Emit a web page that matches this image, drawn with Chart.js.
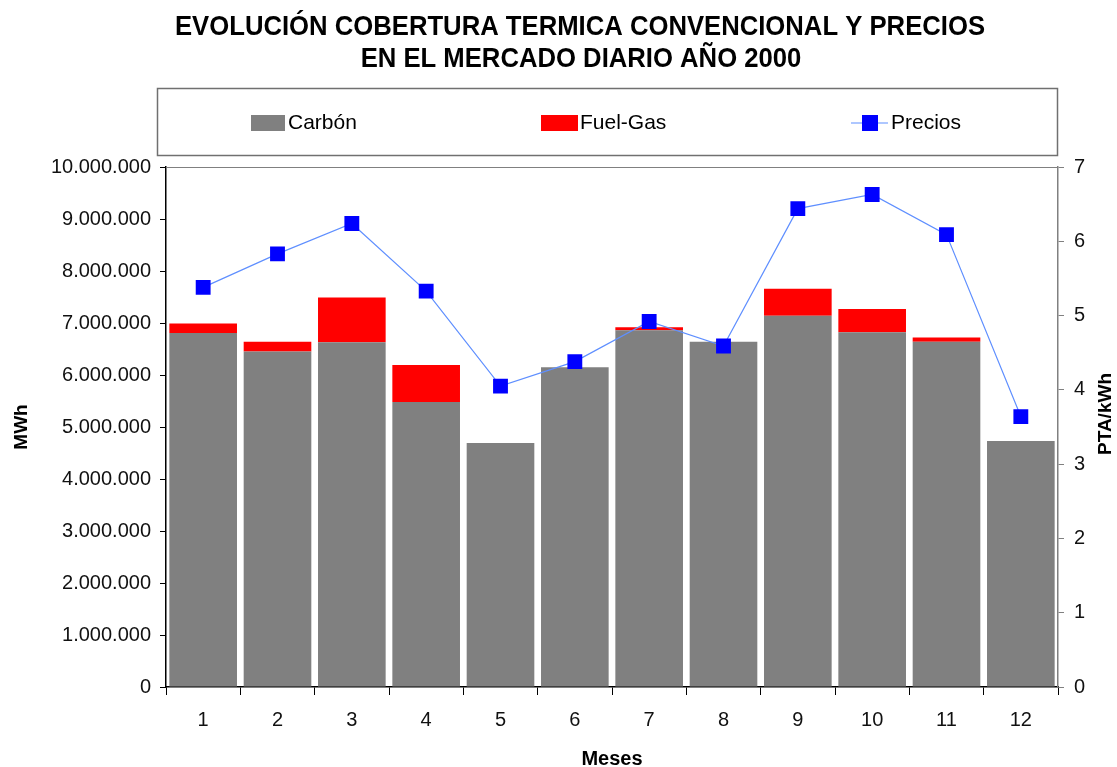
<!DOCTYPE html>
<html>
<head>
<meta charset="utf-8">
<script src="https://cdn.jsdelivr.net/npm/chart.js@4"></script>
<style>
  body { margin: 0; background: #fff; }
  #wrap { width: 1117px; height: 767px; }
</style>
</head>
<body>
<div id="wrap"><canvas id="coberturaChart" width="1117" height="767"></canvas></div>
<script>
// Datos
const meses = ['1', '2', '3', '4', '5', '6', '7', '8', '9', '10', '11', '12'];
const carbon = [6810000, 6450000, 6630000, 5480000, 4690000, 6150000, 6860000, 6640000, 7140000, 6820000, 6640000, 4730000];
const fuelGas = [180000, 190000, 860000, 710000, 0, 0, 60000, 0, 520000, 450000, 80000, 0];
const precios = [5.38, 5.83, 6.24, 5.33, 4.05, 4.38, 4.92, 4.59, 6.44, 6.63, 6.09, 3.64];
const tituloLineas = ['EVOLUCIÓN COBERTURA TERMICA CONVENCIONAL Y PRECIOS', 'EN EL MERCADO DIARIO AÑO 2000'];

const TXT = '"Liberation Sans", Arial, sans-serif';

function miles(v) {
    return String(v).replace(/\B(?=(\d{3})+(?!\d))/g, '.');
}

function texto(ctx, s, x, y, font, align, sx) {
    sx = sx || 1;
    ctx.save();
    ctx.font = font;
    ctx.fillStyle = '#000';
    ctx.textBaseline = 'middle';
    ctx.translate(x, y);
    ctx.scale(sx, 1);
    const w = ctx.measureText(s).width;
    let dx = 0;
    if (align === 'center') dx = -w / 2;
    else if (align === 'right') dx = -w;
    ctx.textAlign = 'left';
    ctx.fillText(s, dx, 0);
    ctx.restore();
}

// Titulo, leyenda, marco y titulos de ejes
const decoPlugin = {
    id: 'deco',
    afterDraw(chart) {
        const ctx = chart.ctx;
        const a = chart.chartArea;

        // marco del area de trazado
        ctx.save();
        ctx.strokeStyle = '#808080';
        ctx.lineWidth = 1;
        ctx.beginPath();
        ctx.moveTo(a.left, a.top + 0.5);
        ctx.lineTo(a.right, a.top + 0.5);
        ctx.stroke();
        ctx.restore();

        // titulo (algo comprimido en horizontal, como el original)
        const tFont = 'bold 28px ' + TXT;
        ctx.font = tFont;
        const sx = 810 / ctx.measureText(tituloLineas[0]).width;
        texto(ctx, tituloLineas[0], 580, 27, tFont, 'center', sx);
        texto(ctx, tituloLineas[1], 581, 59, tFont, 'center', sx);

        // caja de la leyenda
        ctx.save();
        ctx.strokeStyle = '#707070';
        ctx.lineWidth = 1.5;
        ctx.strokeRect(157.5, 88.5, 900, 67);
        ctx.restore();

        const ly = 123;
        const ds = chart.data.datasets;
        const lFont = '21px ' + TXT;
        ctx.fillStyle = ds[0].backgroundColor;
        ctx.fillRect(251, ly - 8, 34, 16);
        texto(ctx, ds[0].label, 288, ly, lFont, 'left');
        ctx.fillStyle = ds[1].backgroundColor;
        ctx.fillRect(541, ly - 8, 37, 16);
        texto(ctx, ds[1].label, 580, ly, lFont, 'left');
        ctx.save();
        ctx.strokeStyle = ds[2].borderColor;
        ctx.lineWidth = 1.2;
        ctx.beginPath();
        ctx.moveTo(851, ly);
        ctx.lineTo(888, ly);
        ctx.stroke();
        ctx.fillStyle = ds[2].pointBackgroundColor;
        ctx.fillRect(862, ly - 8, 16, 16);
        ctx.restore();
        texto(ctx, ds[2].label, 891, ly, lFont, 'left');

        // titulos de ejes
        texto(ctx, 'Meses', 612, 759, 'bold 20px ' + TXT, 'center');
        ctx.save();
        ctx.translate(22, 427);
        ctx.rotate(-Math.PI / 2);
        texto(ctx, 'MWh', 0, 0, 'bold 19px ' + TXT, 'center');
        ctx.restore();
        ctx.save();
        ctx.translate(1106, 414);
        ctx.rotate(-Math.PI / 2);
        texto(ctx, 'PTA/kWh', 0, 0, 'bold 19px ' + TXT, 'center');
        ctx.restore();
    }
};

const tickFont = { family: '"Liberation Sans", Arial, sans-serif', size: 20 };

new Chart(document.getElementById('coberturaChart').getContext('2d'), {
    type: 'bar',
    data: {
        labels: meses,
        datasets: [
            {
                label: 'Carbón',
                data: carbon,
                backgroundColor: '#808080',
                yAxisID: 'y',
                stack: 'mwh',
                order: 2,
                barPercentage: 0.91,
                categoryPercentage: 1
            },
            {
                label: 'Fuel-Gas',
                data: fuelGas,
                backgroundColor: '#ff0000',
                yAxisID: 'y',
                stack: 'mwh',
                order: 2,
                barPercentage: 0.91,
                categoryPercentage: 1
            },
            {
                type: 'line',
                label: 'Precios',
                data: precios,
                yAxisID: 'y1',
                borderColor: '#5f8fff',
                borderWidth: 1.2,
                pointStyle: 'rect',
                pointRadius: 10.5,
                pointBackgroundColor: '#0000ff',
                pointBorderColor: '#0000ff',
                pointBorderWidth: 0,
                tension: 0,
                order: 0
            }
        ]
    },
    options: {
        responsive: false,
        devicePixelRatio: 1,
        animation: false,
        layout: { padding: { top: 167, left: 0, right: 0, bottom: 0 } },
        plugins: {
            legend: { display: false },
            title: { display: false },
            tooltip: { enabled: false }
        },
        scales: {
            x: {
                stacked: true,
                grid: { drawOnChartArea: false, offset: true, tickLength: 8, color: '#000' },
                border: { color: '#000', width: 1.5 },
                ticks: { font: tickFont, color: '#111', padding: 13 },
                afterFit(scale) { scale.height = 80; }
            },
            y: {
                position: 'left',
                stacked: true,
                min: 0,
                max: 10000000,
                grid: { drawOnChartArea: false, tickLength: 6, color: '#000' },
                border: { color: '#000', width: 1.5 },
                ticks: {
                    stepSize: 1000000,
                    font: tickFont,
                    color: '#111',
                    padding: 9,
                    callback: v => miles(v)
                },
                afterFit(scale) { scale.width = 166; }
            },
            y1: {
                position: 'right',
                min: 0,
                max: 7,
                grid: { drawOnChartArea: false, tickLength: 6, color: '#808080' },
                border: { color: '#808080', width: 1.5 },
                ticks: { stepSize: 1, font: tickFont, color: '#111', padding: 10 },
                afterFit(scale) { scale.width = 59; }
            }
        }
    },
    plugins: [decoPlugin]
});
</script>
</body>
</html>
